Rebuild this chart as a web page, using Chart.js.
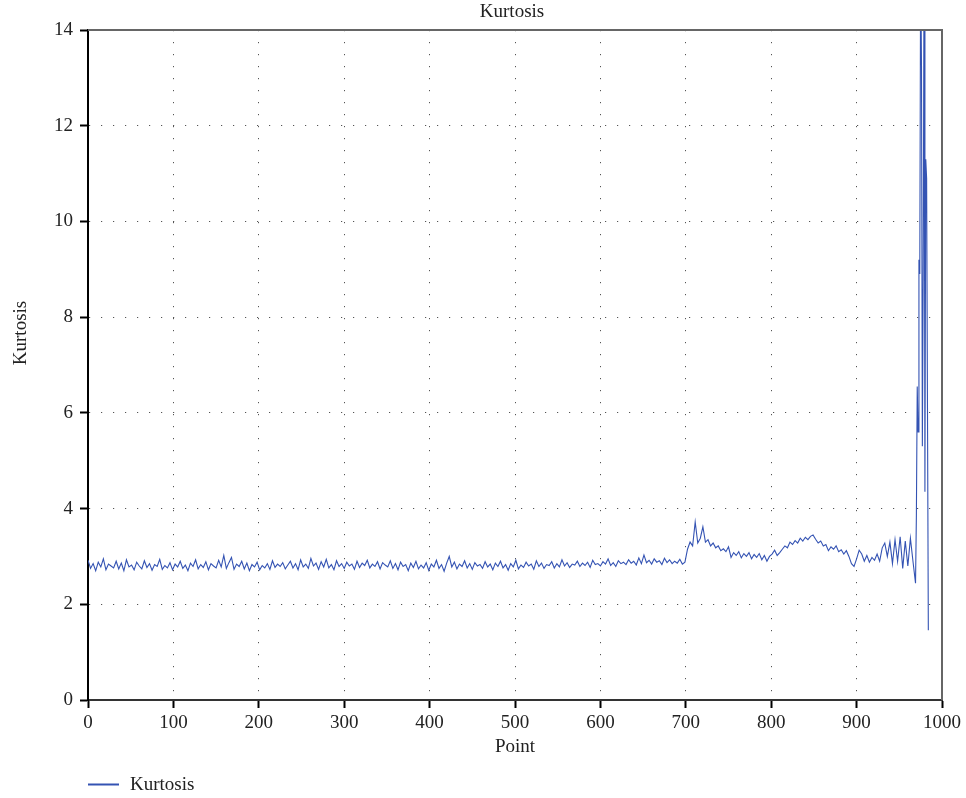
<!DOCTYPE html>
<html>
<head>
<meta charset="utf-8">
<script src="https://cdn.jsdelivr.net/npm/chart.js@4.4.1/dist/chart.umd.min.js"></script>
<style>
  html, body { margin: 0; padding: 0; background: #fff; }
  #wrap { width: 966px; height: 798px; position: relative; }
</style>
</head>
<body>
<div id="wrap"><canvas id="c" width="966" height="798"></canvas></div>
<script>
// ---- data ----
const chartTitle = "Kurtosis";
const xTitle = "Point";
const yTitle = "Kurtosis";
const seriesName = "Kurtosis";
const xTicks = [0, 100, 200, 300, 400, 500, 600, 700, 800, 900, 1000];
const yTicks = [0, 2, 4, 6, 8, 10, 12, 14];

// values at points 0, 3, 6, ... 966 (every third point)
const pointStep = 3;
const kurtosisEvery3 = [
  2.92, 2.75, 2.85, 2.70, 2.88, 2.78, 2.95, 2.72, 2.84, 2.80,
  2.76, 2.90, 2.74, 2.86, 2.70, 2.93, 2.78, 2.82, 2.72, 2.88,
  2.80, 2.74, 2.91, 2.77, 2.85, 2.71, 2.83, 2.79, 2.94, 2.73,
  2.81, 2.76, 2.87, 2.72, 2.84, 2.78, 2.90, 2.75, 2.82, 2.70,
  2.86, 2.79, 2.93, 2.74, 2.83, 2.77, 2.89, 2.72, 2.85, 2.80,
  2.76, 2.92, 2.78, 3.02, 2.75, 2.87, 2.98, 2.73, 2.84, 2.79,
  2.90, 2.74, 2.86, 2.70, 2.83, 2.78, 2.88, 2.72, 2.81, 2.76,
  2.85, 2.73, 2.91, 2.77, 2.84, 2.79, 2.87, 2.74, 2.82, 2.90,
  2.76, 2.85, 2.72, 2.93, 2.78, 2.84, 2.75, 2.96, 2.80, 2.86,
  2.73, 2.89, 2.78, 2.94, 2.76, 2.83, 2.72, 2.91, 2.79, 2.85,
  2.75, 2.88, 2.80, 2.84, 2.73, 2.90, 2.77, 2.86, 2.81, 2.92,
  2.76, 2.84, 2.79, 2.89, 2.74, 2.87, 2.82, 2.78, 2.91, 2.75,
  2.85, 2.72, 2.88, 2.79, 2.83, 2.70, 2.86, 2.77, 2.90, 2.74,
  2.82, 2.76, 2.87, 2.71, 2.84, 2.78, 2.92, 2.75, 2.83, 2.69,
  2.86, 3.00, 2.78, 2.88, 2.74, 2.84, 2.79, 2.91, 2.76, 2.85,
  2.73, 2.87, 2.80, 2.83, 2.75, 2.89, 2.78, 2.84, 2.72, 2.86,
  2.79, 2.90, 2.76, 2.83, 2.71, 2.85, 2.78, 2.92, 2.74, 2.82,
  2.77, 2.88, 2.80, 2.84, 2.73, 2.91, 2.79, 2.86, 2.75, 2.83,
  2.81, 2.89, 2.76, 2.85, 2.78, 2.93, 2.80, 2.87, 2.77, 2.84,
  2.82, 2.90, 2.79, 2.86, 2.81, 2.88, 2.77, 2.92, 2.83, 2.85,
  2.80, 2.89, 2.84, 2.95, 2.81, 2.87, 2.79, 2.91, 2.85, 2.88,
  2.83, 2.93, 2.86, 2.90, 2.82, 2.97, 2.85, 3.03, 2.87, 2.92,
  2.84, 2.95, 2.88, 2.91, 2.83, 2.96, 2.87, 2.93, 2.85, 2.90,
  2.86, 2.94, 2.84, 2.88,
  3.15, 3.30, 3.22, 3.72, 3.28, 3.38, 3.62, 3.30, 3.35, 3.22,
  3.28, 3.18, 3.22, 3.12, 3.16, 3.10, 3.20, 2.98, 3.08, 3.02,
  3.10, 2.97, 3.06, 3.00, 3.08, 2.95, 3.04, 2.98, 3.06, 2.93,
  3.02, 2.90, 3.00, 3.05, 3.13, 3.02, 3.08, 3.15, 3.22, 3.18,
  3.30, 3.25, 3.33, 3.28, 3.38, 3.32, 3.40, 3.35, 3.42, 3.45,
  3.36, 3.28, 3.32, 3.22, 3.25, 3.12, 3.20, 3.15, 3.22, 3.10,
  3.14, 3.05, 3.12, 3.00, 2.85, 2.79, 2.95, 3.13, 3.05, 2.90,
  3.02, 2.88, 2.98, 2.92, 3.05, 2.90, 3.18, 3.28, 3.00, 3.30,
  2.85, 3.35, 2.90, 3.41, 2.75, 3.32, 2.80, 3.38, 2.90
];

// final burst, every point
const burstPoints = [969, 970, 971, 972, 973, 974, 975, 976, 977, 978, 979, 980, 981, 982, 983, 984];
const burstValues = [2.44, 3.85, 6.55, 5.60, 9.20, 8.90, 15.5, 13.2, 5.30, 9.00, 15.5, 4.35, 11.3, 10.9, 6.10, 1.46];

// ---- build points ----
const points = kurtosisEvery3.map((v, i) => ({ x: i * pointStep, y: v }));
burstPoints.forEach((p, i) => points.push({ x: p, y: burstValues[i] }));

const FONT = "Liberation Serif";
const LINE_COLOR = "#3453b3";

const decor = {
  id: "decor",
  afterDraw(chart) {
    const { ctx, chartArea: a } = chart;
    ctx.save();
    // top and right frame
    ctx.strokeStyle = "#666";
    ctx.lineWidth = 2;
    ctx.beginPath();
    ctx.moveTo(a.left, a.top);
    ctx.lineTo(a.right, a.top);
    ctx.lineTo(a.right, a.bottom);
    ctx.stroke();

    ctx.fillStyle = "#222";
    ctx.font = "19px '" + FONT + "'";
    ctx.textAlign = "center";
    ctx.textBaseline = "alphabetic";
    ctx.fillText(chartTitle, (a.left + a.right) / 2 - 3, 17);
    ctx.fillText(xTitle, (a.left + a.right) / 2, 752);

    ctx.save();
    ctx.translate(26, 333);
    ctx.rotate(-Math.PI / 2);
    ctx.fillText(yTitle, 0, 0);
    ctx.restore();

    // legend
    ctx.strokeStyle = LINE_COLOR;
    ctx.lineWidth = 2;
    ctx.beginPath();
    ctx.moveTo(88, 784.5);
    ctx.lineTo(119, 784.5);
    ctx.stroke();
    ctx.textAlign = "left";
    ctx.fillText(seriesName, 130, 790);
    ctx.restore();
  }
};

const gridColor = (ctx, edges) => {
  const v = ctx.tick ? ctx.tick.value : null;
  return edges.includes(v) ? "rgba(0,0,0,0)" : "#555";
};

new Chart(document.getElementById("c"), {
  type: "line",
  data: {
    datasets: [{
      label: seriesName,
      data: points,
      borderColor: LINE_COLOR,
      borderWidth: 1.1,
      pointRadius: 0,
      tension: 0,
      fill: false
    }]
  },
  options: {
    responsive: false,
    animation: false,
    layout: { padding: { left: 0, top: 30, right: 24, bottom: 0 } },
    plugins: {
      legend: { display: false },
      title: { display: false },
      tooltip: { enabled: false }
    },
    scales: {
      x: {
        type: "linear",
        min: 0, max: 1000,
        afterBuildTicks: s => { s.ticks = xTicks.map(v => ({ value: v })); },
        afterFit: s => { s.height = 98; },
        ticks: { font: { family: FONT, size: 19 }, color: "#222", padding: 4, maxRotation: 0, autoSkip: false,
                 callback: v => String(v) },
        grid: {
          color: c => gridColor(c, [0, 1000]),
          lineWidth: 1,
          tickLength: 8,
          tickColor: "#000",
          tickWidth: 2
        },
        border: { color: "#333", width: 2, dash: [1.2, 10.8] }
      },
      y: {
        type: "linear",
        min: 0, max: 14,
        afterBuildTicks: s => { s.ticks = yTicks.map(v => ({ value: v })); },
        afterFit: s => { s.width = 88; },
        ticks: { font: { family: FONT, size: 19 }, color: "#222", padding: 7, autoSkip: false,
                 callback: v => String(v) },
        grid: {
          color: c => gridColor(c, [0, 14]),
          lineWidth: 1,
          tickLength: 8,
          tickColor: "#000",
          tickWidth: 2
        },
        border: { color: "#000", width: 2, dash: [1.2, 10.8] }
      }
    }
  },
  plugins: [decor]
});
</script>
</body>
</html>
